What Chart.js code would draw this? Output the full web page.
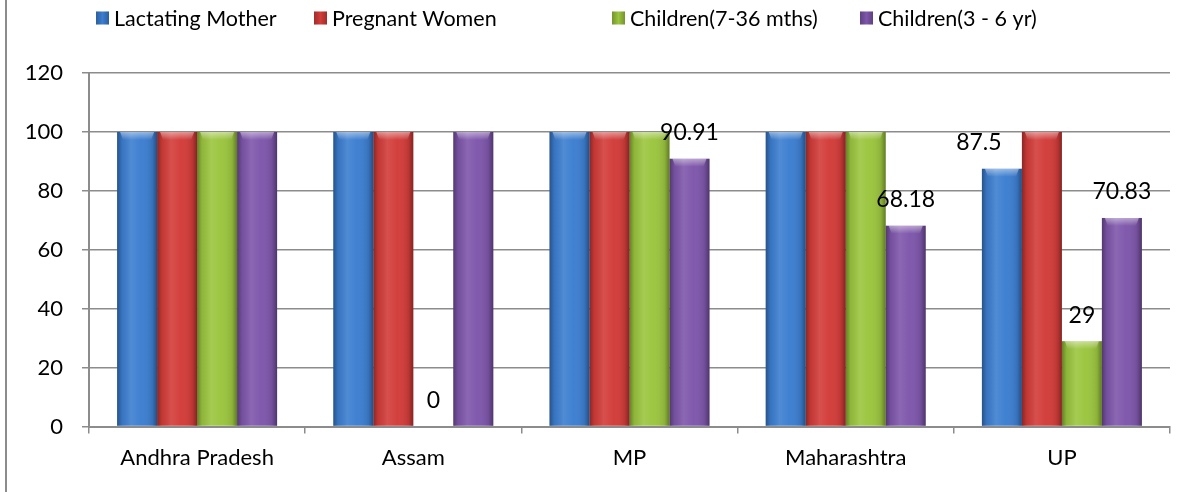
<!DOCTYPE html>
<html>
<head>
<meta charset="utf-8">
<script src="https://cdn.jsdelivr.net/npm/chart.js@4/dist/chart.umd.min.js"></script>
<style>
  html, body { margin: 0; padding: 0; background: #fff; }
  #wrap { position: relative; width: 1192px; height: 492px; }
  canvas { display: block; }
</style>
</head>
<body>
<div id="wrap"><canvas id="c" width="1192" height="492"></canvas></div>
<script>
// ---- data ----
const categories = ['Andhra Pradesh', 'Assam', 'MP', 'Maharashtra', 'UP'];
const seriesNames = ['Lactating Mother', 'Pregnant Women', 'Children(7-36 mths)', 'Children(3 - 6 yr)'];
const lactatingMother = [100, 100, 100, 100, 87.5];
const pregnantWomen = [100, 100, 100, 100, 100];
const children7to36m = [100, 0, 100, 100, 29];
const children3to6y = [100, 100, 90.91, 68.18, 70.83];
const yTicks = [0, 20, 40, 60, 80, 100, 120];
// which values carry a data label in the original
const labelLactating = [false, false, false, false, true];
const labelPregnant = [false, false, false, false, false];
const labelChildren7to36m = [false, true, false, false, true];
const labelChildren3to6y = [false, false, true, true, true];

const seriesColors = ['#3c7ed0', '#d23c39', '#9bc53e', '#7e56ab'];
const FONT = 'Lato, "Open Sans", sans-serif';
const legendItemX = [96, 314, 612, 860];

const barShade = {
  id: 'barShade',
  afterDatasetsDraw(chart) {
    const ctx = chart.ctx;
    chart.data.datasets.forEach((ds, di) => {
      const meta = chart.getDatasetMeta(di);
      meta.data.forEach((el) => {
        const w = el.width, x0 = el.x - w / 2, x1 = el.x + w / 2;
        const top = Math.min(el.y, el.base), bot = Math.max(el.y, el.base);
        if (bot - top < 1) return;
        ctx.save();
        const g = ctx.createLinearGradient(x0, 0, x1, 0);
        g.addColorStop(0, 'rgba(0,0,0,0.35)');
        g.addColorStop(0.12, 'rgba(0,0,0,0.08)');
        g.addColorStop(0.35, 'rgba(255,255,255,0.10)');
        g.addColorStop(0.6, 'rgba(255,255,255,0.02)');
        g.addColorStop(0.88, 'rgba(0,0,0,0.10)');
        g.addColorStop(1, 'rgba(0,0,0,0.38)');
        ctx.fillStyle = g;
        ctx.fillRect(x0, top, w, bot - top);
        const capH = Math.min(8, bot - top);
        const cg = ctx.createLinearGradient(0, top, 0, top + capH);
        cg.addColorStop(0, 'rgba(255,255,255,0.45)');
        cg.addColorStop(1, 'rgba(255,255,255,0)');
        ctx.fillStyle = cg;
        ctx.beginPath();
        ctx.moveTo(x0 + 3, top);
        ctx.lineTo(x1 - 3, top);
        ctx.lineTo(x1 - 6, top + capH);
        ctx.lineTo(x0 + 6, top + capH);
        ctx.closePath();
        ctx.fill();
        ctx.restore();
      });
    });
  }
};

const dataLabels = {
  id: 'dataLabels',
  afterDatasetsDraw(chart) {
    const ctx = chart.ctx;
    const flags = [labelLactating, labelPregnant, labelChildren7to36m, labelChildren3to6y];
    ctx.save();
    ctx.font = '23px ' + FONT;
    ctx.fillStyle = '#000';
    ctx.textAlign = 'center';
    ctx.textBaseline = 'middle';
    chart.data.datasets.forEach((ds, di) => {
      const meta = chart.getDatasetMeta(di);
      meta.data.forEach((el, i) => {
        if (!flags[di][i]) return;
        let dx = 0;
        if (di === 0 && i === 4) dx = -23;
        ctx.fillText(String(ds.data[i]), el.x + dx, el.y - 26);
      });
    });
    ctx.restore();
  }
};

const customLegend = {
  id: 'customLegend',
  afterDraw(chart) {
    const ctx = chart.ctx;
    ctx.save();
    ctx.font = '21.5px ' + FONT;
    ctx.textBaseline = 'middle';
    ctx.textAlign = 'left';
    chart.data.datasets.forEach((ds, i) => {
      const x = legendItemX[i], y = 18;
      const g = ctx.createLinearGradient(x, 0, x + 13, 0);
      g.addColorStop(0, 'rgba(0,0,0,0.25)');
      g.addColorStop(0.5, 'rgba(0,0,0,0)');
      g.addColorStop(1, 'rgba(0,0,0,0.25)');
      ctx.fillStyle = ds.backgroundColor;
      ctx.fillRect(x, y - 6.5, 13, 13);
      ctx.fillStyle = g;
      ctx.fillRect(x, y - 6.5, 13, 13);
      ctx.fillStyle = '#000';
      ctx.fillText(ds.label, x + 18, y + 1);
    });
    ctx.restore();
  }
};

const frame = {
  id: 'frame',
  beforeDraw(chart) {
    const ctx = chart.ctx;
    ctx.save();
    ctx.fillStyle = '#fff';
    ctx.fillRect(0, 0, chart.width, chart.height);
    ctx.strokeStyle = '#8c8c8c';
    ctx.lineWidth = 2;
    ctx.beginPath();
    ctx.moveTo(6, 0);
    ctx.lineTo(6, chart.height);
    ctx.stroke();
    ctx.restore();
  }
};

const values = [lactatingMother, pregnantWomen, children7to36m, children3to6y];

new Chart(document.getElementById('c'), {
  type: 'bar',
  data: {
    labels: categories,
    datasets: seriesNames.map((n, i) => ({
      label: n,
      data: values[i],
      backgroundColor: seriesColors[i],
      borderWidth: 0,
      categoryPercentage: 0.74,
      barPercentage: 1.0
    }))
  },
  options: {
    responsive: false,
    animation: false,
    devicePixelRatio: 1,
    layout: { padding: { left: 0, right: 22, top: 73, bottom: 10 } },
    plugins: {
      legend: { display: false },
      tooltip: { enabled: false }
    },
    scales: {
      x: {
        grid: {
          display: true,
          drawOnChartArea: false,
          drawTicks: true,
          tickLength: 7,
          color: '#8c8c8c',
          lineWidth: 1.5
        },
        border: { display: true, color: '#8c8c8c', width: 2 },
        ticks: { font: { family: FONT, size: 22 }, color: '#000', padding: 11 }
      },
      y: {
        min: 0,
        max: 120,
        afterFit(scale) { scale.width = 89; },
        afterBuildTicks(scale) { scale.ticks = yTicks.map(v => ({ value: v })); },
        grid: { color: '#8c8c8c', lineWidth: 1.5, tickLength: 7 },
        border: { display: true, color: '#8c8c8c', width: 2 },
        ticks: { font: { family: FONT, size: 22 }, color: '#000', padding: 19 }
      }
    }
  },
  plugins: [frame, barShade, dataLabels, customLegend]
});
</script>
</body>
</html>
